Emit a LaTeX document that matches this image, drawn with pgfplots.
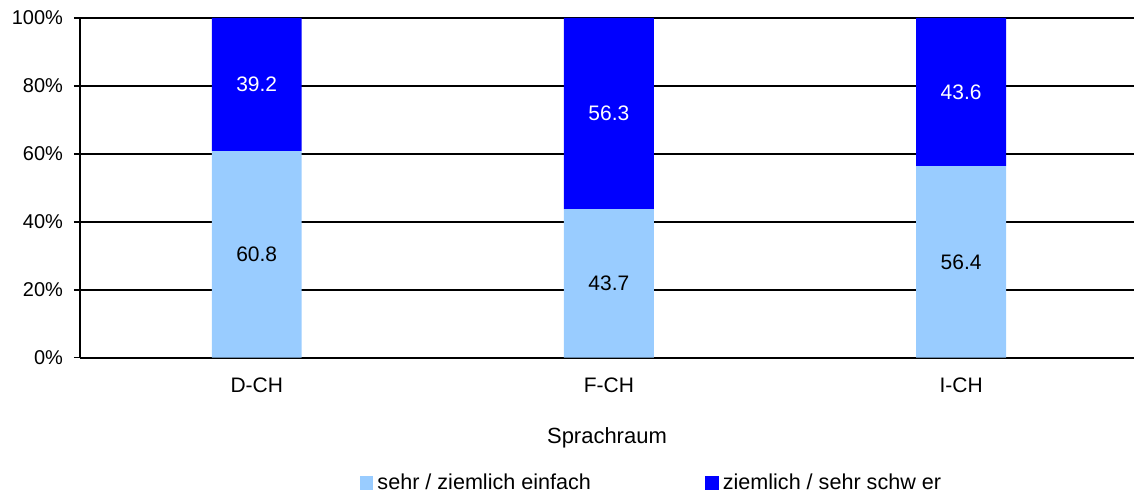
\documentclass[border=0pt]{standalone}
\usepackage{pgfplots}
\pgfplotsset{compat=1.18}
\usepackage{fontspec}
\setmainfont{Liberation Sans}

\definecolor{hellblau}{RGB}{153,204,255}
\definecolor{dunkelblau}{RGB}{0,0,255}

% grid behind the bars, axis lines in front
\pgfplotsset{
  layers/barsfirst/.define layer set={
    axis background,axis grid,main,axis ticks,axis lines,
    axis tick labels,axis descriptions,axis foreground}{},
}

\begin{document}
\begin{tikzpicture}
\begin{axis}[
  set layers=barsfirst,
  scale only axis,
  width=527.5bp, height=170bp,
  font=\fontsize{10bp}{12bp}\selectfont,
  /pgf/number format/assume math mode=true,
  ybar stacked,
  bar width=45bp,
  xmin=-0.502, xmax=2.491,
  ymin=0, ymax=100,
  xtick={0,1,2},
  xticklabels={D-CH,F-CH,I-CH},
  ytick={0,20,...,100},
  yticklabel={\pgfmathprintnumber{\tick}\%},
  ymajorgrids,
  grid style={black, line width=0.8bp},
  axis lines=left,
  axis line style={-, line width=1bp},
  tick align=outside,
  major tick length=3bp,
  ytick style={black, line width=0.8bp},
  xtick style={draw=none},
  xticklabel style={anchor=base, yshift=-14.5bp, font=\fontsize{10.5bp}{12bp}\selectfont},
  yticklabel style={anchor=east, xshift=-2bp},
  xlabel={Sprachraum},
  xlabel style={at={(axis description cs:0.5,0)}, anchor=base, yshift=-43bp,
    font=\fontsize{11bp}{13bp}\selectfont},
  visualization depends on=rawy \as \rawy,
  nodes near coords={\pgfmathprintnumber[fixed,fixed zerofill,precision=1]{\rawy}},
  every node near coord/.append style={anchor=center,
    font=\fontsize{10.5bp}{12bp}\selectfont},
  legend style={at={(axis description cs:0.543,-0.368)}, anchor=center,
    draw=none, legend columns=2, font=\fontsize{10.8bp}{13bp}\selectfont,
    /tikz/every even column/.append style={column sep=55bp}},
  legend image code/.code={\fill[#1, draw=none] (0bp,-3.5bp) rectangle (7bp,3.5bp);},
]
\addplot[fill=hellblau, draw=none, nodes near coords style={text=black}]
  coordinates {(0,60.8) (1,43.7) (2,56.4)};
\addplot[fill=dunkelblau, draw=none, nodes near coords style={text=white}]
  coordinates {(0,39.2) (1,56.3) (2,43.6)};
\legend{sehr / ziemlich einfach, ziemlich / sehr schw er}
\coordinate (bl) at (rel axis cs:0,0);
\end{axis}
\path (bl) ++(-40bp,-70bp) rectangle ++(567.5bp,249bp);
\end{tikzpicture}
\end{document}
